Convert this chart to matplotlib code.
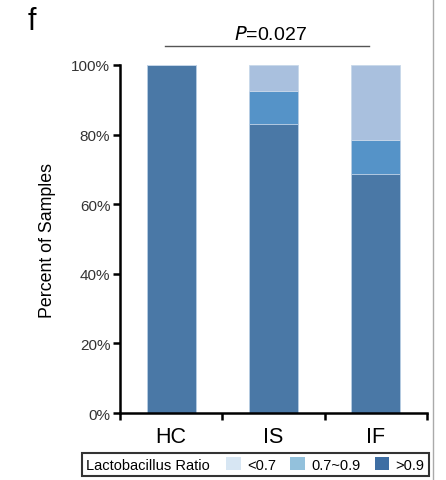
import matplotlib.pyplot as plt
from matplotlib.patches import Patch
from matplotlib.lines import Line2D
from matplotlib.offsetbox import HPacker

plt.rcParams['font.family'] = ['Liberation Sans', 'DejaVu Sans']

groups = ['HC', 'IS', 'IF']
high = [100.0, 83.0, 68.7]      # >0.9
mid = [0.0, 9.6, 9.7]           # 0.7~0.9
low = [0.0, 7.4, 21.6]          # <0.7
legend_title = 'Lactobacillus Ratio'
legend_labels = ['<0.7', '0.7~0.9', '>0.9']
p_text = '$\\it{P}$=0.027'

bar_cols = ['#4a78a6', '#5593c8', '#a9c0de']
legend_cols = ['#d7e6f3', '#93c1dc', '#3e6ea3']

fig = plt.figure(figsize=(4.46, 4.81), dpi=100)
ax = fig.add_axes([0.269, 0.139, 0.688, 0.724])

x = list(range(len(groups)))
w = 0.48
ax.bar(x, high, width=w, color=bar_cols[0], edgecolor='#b8cde3', linewidth=0.6)
ax.bar(x, mid, width=w, bottom=high, color=bar_cols[1], edgecolor='#b8cde3', linewidth=0.6)
bottoms = [h + m for h, m in zip(high, mid)]
ax.bar(x, low, width=w, bottom=bottoms, color=bar_cols[2], edgecolor='#c8d8ea', linewidth=0.6)

ax.set_xlim(-0.5, 2.5)
ax.set_ylim(0, 100)
ax.set_yticks([0, 20, 40, 60, 80, 100])
ax.set_yticklabels(['0%', '20%', '40%', '60%', '80%', '100%'], fontsize=11, color='#333333')
ax.set_xticks([-0.5, 0.5, 1.5, 2.5])
ax.set_xticklabels([])
ax.set_xticks(x, minor=True)
ax.set_xticklabels(groups, minor=True, fontsize=15.5)
ax.tick_params(axis='x', which='minor', length=0, pad=9)
ax.tick_params(axis='x', which='major', length=5, width=1.8, direction='out')
ax.tick_params(axis='y', length=5, width=1.8, direction='out', pad=2)
for s in ['top', 'right']:
    ax.spines[s].set_visible(False)
for s in ['left', 'bottom']:
    ax.spines[s].set_linewidth(1.8)
ax.set_ylabel('Percent of Samples', fontsize=12.8, labelpad=11)

# significance bar
ax.plot([-0.055, 1.93], [105.5, 105.5], color='#555555', lw=1.0, clip_on=False)
ax.text(0.976, 107.5, p_text, ha='center', va='baseline', fontsize=14)

fig.text(0.062, 0.955, 'f', fontsize=22, ha='left', va='center')

# legend with the title inline on the left
handles = [Patch(facecolor=c, edgecolor='none') for c in legend_cols]
leg = fig.legend(handles, legend_labels, title=legend_title, title_fontsize=10.5,
                 loc='center', bbox_to_anchor=(0.572, 0.032),
                 ncol=3, frameon=True, fontsize=10.5, handlelength=1.0,
                 handleheight=1.0, handletextpad=0.4, columnspacing=1.0,
                 borderpad=0.3, fancybox=False)
old = leg._legend_box
leg._legend_box = HPacker(pad=old.pad, sep=12, align='center',
                          children=[leg._legend_title_box, leg._legend_handle_box])
leg._legend_box.set_figure(fig)
leg._legend_box.axes = leg.axes
leg._legend_box.set_offset(leg._findoffset)
leg.get_frame().set_edgecolor('black')
leg.get_frame().set_linewidth(1.5)

# border line on the right
fig.add_artist(Line2D([433 / 446, 433 / 446], [0, 1], color='#aaaaaa', lw=1.0))

fig.savefig('out.png', dpi=100)
